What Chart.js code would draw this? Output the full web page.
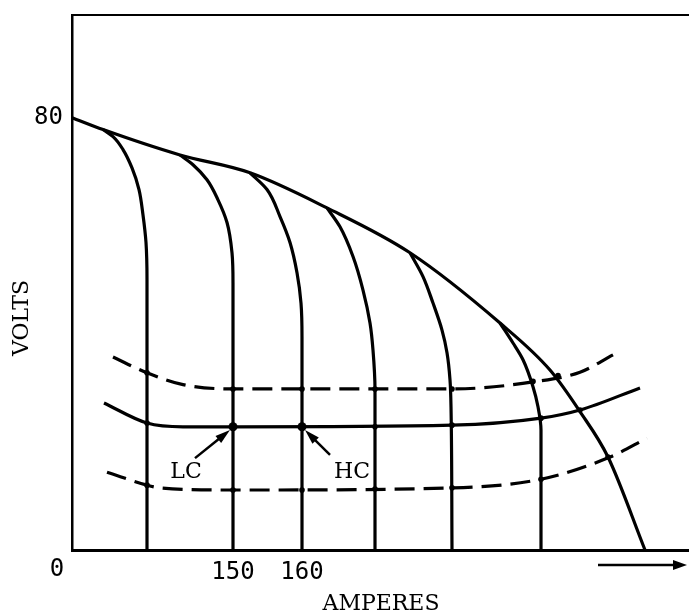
<!DOCTYPE html>
<html>
<head>
<meta charset="utf-8">
<script src="https://cdn.jsdelivr.net/npm/chart.js@4"></script>
<style>
  body { margin: 0; background: #fff; }
  #wrap { width: 689px; height: 615px; position: relative; }
</style>
</head>
<body>
<div id="wrap"><canvas id="chart"></canvas></div>
<script>
// schematic x position (arbitrary units along the amperes axis), y in volts
var xTickValues = [161, 230];
var xTickLabels = ['150', '160'];
var yTickValues = [80];

// outer (max field) curve
var envelope = [[0,80],[31,77.8],[108,73.1],[178,69.8],[255,63.3],[338,55.0],[428,42.0],[478,33.3],[508,25.6],[536,17.2],[573,0]];

// field branches dropping from the envelope
var branch1 = [[31,77.8],[41,76.5],[51,74.1],[60,70.7],[67,66.7],[71,62.0],[74,56.9],[75,50.0],[75,0]];
var branch2 = [[108,73.1],[121,71.3],[135,68.5],[146,64.8],[155,60.6],[160,55.0],[161,49.4],[161,0]];
var branch3 = [[178,69.8],[195,66.7],[208,61.7],[218,56.9],[225,51.3],[229,45.7],[230,39.4],[230,0]];
var branch4 = [[255,63.3],[268,59.8],[281,54.3],[291,48.1],[298,42.0],[301,37.0],[303,29.6],[303,0]];
var branch5 = [[338,55.0],[351,50.6],[361,45.7],[370,40.7],[375,36.5],[378,31.5],[379,26.5],[380,0]];
var branch6 = [[428,42.0],[441,38.3],[451,35.2],[461,30.2],[466,26.5],[469,22.2],[469,0]];

// load lines
var loadHigh = [[41,35.7],[75,32.8],[111,30.6],[161,29.8],[380,29.8],[461,31.1],[508,32.9],[541,36.1]];
var loadMid  = [[32,27.2],[75,23.5],[111,22.8],[161,22.8],[380,23.1],[469,24.4],[508,25.9],[568,30.0]];
var loadLow  = [[35,14.4],[75,12.0],[88,11.5],[161,11.1],[380,11.5],[469,13.1],[538,17.2],[575,20.7]];

// operating points
var smallDots = [[75,32.8],[161,29.8],[230,29.8],[303,29.8],[380,29.8],[461,31.2],[486,32.3],
                 [75,23.5],[303,22.8],[380,23.1],[469,24.4],[508,25.9],
                 [75,12.0],[161,11.1],[230,11.1],[303,11.3],[380,11.5],[469,13.1],[536,17.2]];
var bigDots = [[161,22.8],[230,22.8]];

// annotations: label, label position, arrow tail, arrow head
var notes = [
  { text: 'LC', at: [114,14.4], from: [123,17.0], to: [158,22.2] },
  { text: 'HC', at: [280,14.4], from: [258,17.6], to: [233,22.2] }
];

function pts(a) { return a.map(function(p){ return {x: p[0], y: p[1]}; }); }

// axis = 'x' for curves running left to right, 'y' for branches falling down
function curve(a, axis, dash) {
  return {
    data: pts(a),
    indexAxis: axis,
    showLine: true,
    borderColor: '#000',
    borderWidth: 3.2,
    borderDash: dash || [],
    pointRadius: 0,
    cubicInterpolationMode: 'monotone',
    clip: false
  };
}

var datasets = [
  curve(envelope, 'x'),
  curve(branch1, 'y'), curve(branch2, 'y'), curve(branch3, 'y'),
  curve(branch4, 'y'), curve(branch5, 'y'), curve(branch6, 'y'),
  curve(loadHigh, 'x', [20, 9]),
  curve(loadMid, 'x'),
  curve(loadLow, 'x', [20, 9]),
  { data: pts(smallDots), pointRadius: 2.8, pointBackgroundColor: '#000', pointBorderWidth: 0, showLine: false },
  { data: pts(bigDots), pointRadius: 4.5, pointBackgroundColor: '#000', pointBorderWidth: 0, showLine: false }
];

var extras = {
  id: 'extras',
  afterDraw: function(chart) {
    var c = chart.ctx, a = chart.chartArea;
    var xs = chart.scales.x, ys = chart.scales.y;
    c.save();
    c.strokeStyle = '#000';
    c.fillStyle = '#000';

    // top frame line
    c.lineWidth = 2;
    c.beginPath(); c.moveTo(a.left, a.top); c.lineTo(a.right, a.top); c.stroke();

    // origin label
    c.font = '24px "DejaVu Sans Mono"';
    c.textAlign = 'center'; c.textBaseline = 'middle';
    c.fillText('0', a.left - 15, a.bottom + 20);

    // direction arrow under the axis
    c.lineWidth = 2.5;
    c.beginPath(); c.moveTo(a.right - 91, a.bottom + 15); c.lineTo(a.right - 12, a.bottom + 15); c.stroke();
    c.beginPath();
    c.moveTo(a.right - 2, a.bottom + 15);
    c.lineTo(a.right - 16, a.bottom + 10);
    c.lineTo(a.right - 16, a.bottom + 20);
    c.closePath(); c.fill();

    // axis titles
    c.font = '22px "DejaVu Serif"';
    c.fillText('AMPERES', 381, 604);
    c.save();
    c.translate(22, 318);
    c.rotate(-Math.PI / 2);
    c.fillText('VOLTS', 0, 0);
    c.restore();

    // LC / HC notes
    notes.forEach(function(n) {
      c.font = '22px "DejaVu Serif"';
      c.fillText(n.text, xs.getPixelForValue(n.at[0]), ys.getPixelForValue(n.at[1]));
      var x0 = xs.getPixelForValue(n.from[0]), y0 = ys.getPixelForValue(n.from[1]);
      var x1 = xs.getPixelForValue(n.to[0]), y1 = ys.getPixelForValue(n.to[1]);
      var ang = Math.atan2(y1 - y0, x1 - x0);
      c.lineWidth = 2.5;
      c.beginPath(); c.moveTo(x0, y0); c.lineTo(x1 - 10 * Math.cos(ang), y1 - 10 * Math.sin(ang)); c.stroke();
      c.beginPath();
      c.moveTo(x1, y1);
      c.lineTo(x1 - 15 * Math.cos(ang) + 4.5 * Math.sin(ang), y1 - 15 * Math.sin(ang) - 4.5 * Math.cos(ang));
      c.lineTo(x1 - 15 * Math.cos(ang) - 4.5 * Math.sin(ang), y1 - 15 * Math.sin(ang) + 4.5 * Math.cos(ang));
      c.closePath(); c.fill();
    });
    c.restore();
  }
};

var chart = new Chart(document.getElementById('chart'), {
  type: 'scatter',
  data: { datasets: datasets },
  options: {
    responsive: true,
    maintainAspectRatio: false,
    animation: false,
    layout: { autoPadding: false, padding: { top: 15, right: 0, left: 0, bottom: 0 } },
    plugins: { legend: { display: false }, tooltip: { enabled: false } },
    scales: {
      x: {
        type: 'linear', min: 0, max: 617,
        grid: { display: false, drawTicks: false },
        border: { display: true, color: '#000', width: 3 },
        afterFit: function(s) { s.height = 65; s.paddingLeft = 0; s.paddingRight = 0; },
        afterBuildTicks: function(s) { s.ticks = xTickValues.map(function(v){ return {value: v}; }); },
        ticks: {
          color: '#000', padding: 8, maxRotation: 0, autoSkip: false,
          font: { family: 'DejaVu Sans Mono', size: 24 },
          callback: function(v) { var i = xTickValues.indexOf(v); return i < 0 ? '' : xTickLabels[i]; }
        }
      },
      y: {
        type: 'linear', min: 0, max: 99,
        grid: { display: false, drawTicks: false },
        border: { display: true, color: '#000', width: 2.5 },
        afterFit: function(s) { s.width = 72; s.paddingTop = 0; s.paddingBottom = 0; },
        afterBuildTicks: function(s) { s.ticks = yTickValues.map(function(v){ return {value: v}; }); },
        ticks: {
          color: '#000', padding: 9,
          font: { family: 'DejaVu Sans Mono', size: 24 }
        }
      }
    }
  },
  plugins: [extras]
});
</script>
</body>
</html>
